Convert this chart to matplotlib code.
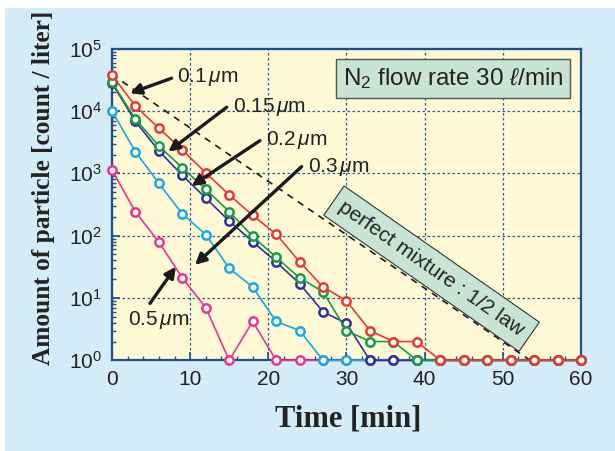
import matplotlib
matplotlib.use("Agg")
import matplotlib.pyplot as plt
from matplotlib.patches import Rectangle
from matplotlib.ticker import LogLocator, MultipleLocator

plt.rcParams['font.family'] = ['Liberation Sans', 'DejaVu Sans']
plt.rcParams['mathtext.fontset'] = 'custom'
plt.rcParams['mathtext.rm'] = 'Liberation Sans'
plt.rcParams['mathtext.it'] = 'Liberation Sans:italic'

# sampling times [min]
time = [0, 3, 6, 9, 12, 15, 18, 21, 24, 27, 30, 33, 36, 39, 42, 45, 48, 51, 54, 57, 60]

# particle counts [count / liter]
p01 = [37800, 12000, 5300, 2370, 1020, 450, 212, 106, 38, 15, 9, 3, 2, 2, 1, 1, 1, 1, 1, 1, 1]
p015 = [29000, 7400, 2740, 1230, 553, 243, 97, 45, 21, 12.6, 3, 2, 2, 1, 1, 1, 1, 1, 1, 1, 1]
p02 = [28000, 6800, 2300, 930, 400, 172, 80, 38, 17, 6, 3.9, 1, 1, 1, 1, 1, 1, 1, 1, 1, 1]
p03 = [10000, 2220, 690, 223, 104, 30, 15, 4.2, 3, 1, 1, 1, 1, 1, 1, 1, 1, 1, 1, 1, 1]
p05 = [1130, 240, 79, 21, 7, 1, 4.2, 1, 1, 1, 1, 1, 1, 1, 1, 1, 1, 1, 1, 1, 1]

# perfect mixture (1/2 law) reference line
mix_t = [0, 53.5]
mix_v = [38500, 1]

fig = plt.figure(figsize=(6.15, 4.51), dpi=100, facecolor='white')
fig.patches.append(Rectangle((0.0081, 0), 1.0, 0.982, transform=fig.transFigure,
                             facecolor='#d5ecf9', edgecolor='none', zorder=-10))

ax = fig.add_axes([0.1821, 0.2011, 0.7626, 0.6909])
ax.set_facecolor('#fff9d6')

ax.plot(mix_t, mix_v, color='#1a1a1a', ls=(0, (4, 3.5)), lw=1.2, zorder=2)

series = [(p05, '#e8358f'), (p03, '#1aa8e0'), (p02, '#2b3590'),
          (p015, '#1a9a46'), (p01, '#e53a2e')]
for i, (vals, c) in enumerate(series):
    ax.plot(time, vals, color=c, lw=1.2, marker='o', ms=6, mfc='white',
            mec=c, mew=1.8, zorder=3 + i, clip_on=False)

ax.set_yscale('log')
ax.set_xlim(0, 60)
ax.set_ylim(1, 1e5)
ax.xaxis.set_major_locator(MultipleLocator(10))
ax.xaxis.set_minor_locator(MultipleLocator(2))
ax.yaxis.set_major_locator(LogLocator(base=10, numticks=10))
ax.yaxis.set_minor_locator(LogLocator(base=10, subs=range(2, 10), numticks=10))

spine_c = '#1f4e8c'
for s in ax.spines.values():
    s.set_color(spine_c)
    s.set_linewidth(1.6)
ax.tick_params(which='both', direction='in', color=spine_c, labelcolor='#222222',
               labelsize=15, top=False, right=False)
ax.tick_params(which='major', length=6, width=1.2)
ax.tick_params(which='minor', length=3, width=1.0)
ax.tick_params(axis='x', pad=7)
ax.tick_params(axis='y', pad=7)
ax.grid(which='major', color='#2a5a9a', ls=(0, (2, 2)), lw=0.9)

# particle size labels with arrows
arrow = dict(arrowstyle='-|>', lw=2.4, color='#1a1a1a', mutation_scale=16,
             shrinkA=0, shrinkB=0)
ax.annotate('', xy=(2.30, 19300), xytext=(7.63, 33600), arrowprops=arrow, zorder=10)
ax.text(8.31, 35600, r'0.1$\,\mu$m', fontsize=15, color='#222222', va='center', zorder=10)
ax.annotate('', xy=(7.2, 2230), xytext=(14.67, 11500), arrowprops=arrow, zorder=10)
ax.text(15.5, 11750, r'0.15$\,\mu$m', fontsize=15, color='#222222', va='center', zorder=10)
ax.annotate('', xy=(10.19, 628), xytext=(18.93, 3350), arrowprops=arrow, zorder=10)
ax.text(19.69, 3440, r'0.2$\,\mu$m', fontsize=15, color='#222222', va='center', zorder=10)
ax.annotate('', xy=(10.61, 33.9), xytext=(24.26, 1282), arrowprops=arrow, zorder=10)
ax.text(25.1, 1282, r'0.3$\,\mu$m', fontsize=15, color='#222222', va='center', zorder=10)
ax.annotate('', xy=(8.18, 31.8), xytext=(4.86, 8.2), arrowprops=arrow, zorder=10)
ax.text(2.08, 4.43, r'0.5$\,\mu$m', fontsize=15, color='#222222', va='center', zorder=10)

ax.text(40.88, 29.5, 'perfect mixture : 1/2 law', fontsize=15, color='#222222',
        rotation=-34.9, rotation_mode='anchor', ha='center', va='center', zorder=12,
        bbox=dict(boxstyle='square,pad=0.4', fc='#c8e4d4', ec='#333333', lw=0.8))

ax.text(0.727, 0.904, r'N$_2$ flow rate 30 $\ell$/min', transform=ax.transAxes,
        fontsize=17.5, color='#222222', ha='center', va='center', zorder=12,
        bbox=dict(boxstyle='square,pad=0.28', fc='#c8e4d4', ec='#555555', lw=1.0))

fig.text(0.566, 0.071, 'Time [min]', family='Liberation Serif', weight='bold',
         fontsize=22, color='#222222', ha='center', va='center')
fig.text(0.07, 0.583, 'Amount of particle [count / liter]', family='Liberation Serif',
         weight='bold', fontsize=18.3, color='#222222', rotation=90,
         ha='center', va='center')

fig.savefig('out.png', dpi=100, facecolor='white')
